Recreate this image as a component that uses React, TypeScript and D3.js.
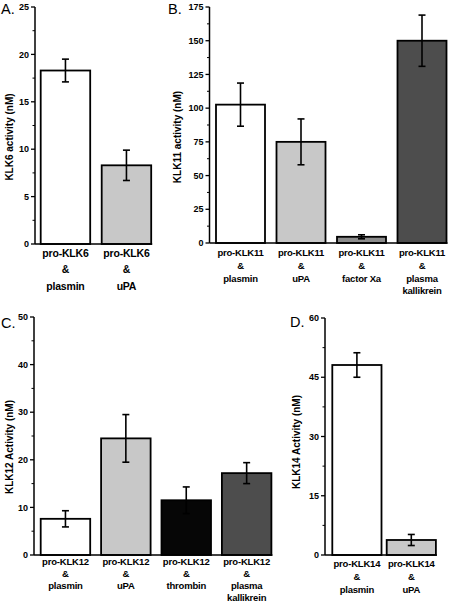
import React from "react";
import * as d3 from "d3";

// ---------- data ----------
const klk6Categories = [["pro-KLK6", "&", "plasmin"], ["pro-KLK6", "&", "uPA"]];
const klk6Values = [18.3, 8.3];
const klk6Errors = [1.2, 1.6];
const klk6Ticks = [0, 5, 10, 15, 20, 25];

const klk11Categories = [
  ["pro-KLK11", "&", "plasmin"],
  ["pro-KLK11", "&", "uPA"],
  ["pro-KLK11", "&", "factor Xa"],
  ["pro-KLK11", "&", "plasma", "kallikrein"],
];
const klk11Values = [102.6, 75, 4.6, 150];
const klk11Errors = [16, 17, 1.5, 19];
const klk11Ticks = [0, 25, 50, 75, 100, 125, 150, 175];

const klk12Categories = [
  ["pro-KLK12", "&", "plasmin"],
  ["pro-KLK12", "&", "uPA"],
  ["pro-KLK12", "&", "thrombin"],
  ["pro-KLK12", "&", "plasma", "kallikrein"],
];
const klk12Values = [7.6, 24.5, 11.5, 17.2];
const klk12Errors = [1.7, 5, 2.8, 2.2];
const klk12Ticks = [0, 10, 20, 30, 40, 50];

const klk14Categories = [["pro-KLK14", "&", "plasmin"], ["pro-KLK14", "&", "uPA"]];
const klk14Values = [48.1, 3.8];
const klk14Errors = [3.1, 1.4];
const klk14Ticks = [0, 15, 30, 45, 60];

// ---------- styles ----------
const WHITE = "#ffffff";
const LIGHT = "#c8c8c8";
const MID = "#8c8c8c";
const DARK = "#4d4d4d";
const BLACK = "#060606";
const FONT = "'Liberation Sans', Arial, Helvetica, sans-serif";

type PanelProps = {
  letter: string;
  letterX: number;
  letterY: number;
  title: string;
  titleX: number;
  titleY: number;
  categories: string[][];
  values: number[];
  errors: number[];
  ticks: number[];
  fills: string[];
  axisX: number;
  barStart: number;
  step: number;
  barWidth: number;
  yBottom: number;
  yTop: number;
  labelY: number;
  labelGap: number;
  labelSize: number;
};

function Panel(p: PanelProps) {
  const n = p.values.length;
  const pad = (p.step - p.barWidth) / p.step;
  const x = d3
    .scaleBand<number>()
    .domain(d3.range(n))
    .range([p.barStart, p.barStart + n * p.step - (p.step - p.barWidth)])
    .paddingInner(pad)
    .paddingOuter(0);
  const max = p.ticks[p.ticks.length - 1];
  const y = d3.scaleLinear().domain([0, max]).range([p.yBottom, p.yTop]);
  const tickStep = p.ticks[1] - p.ticks[0];
  const minor = p.ticks.slice(0, -1).map((t) => t + tickStep / 2);
  const lastEnd = (x(n - 1) ?? 0) + x.bandwidth();
  return (
    <g>
      <text x={p.letterX} y={p.letterY} fontSize={14.5} fontFamily={FONT}>
        {p.letter}
      </text>
      <text
        transform={`translate(${p.titleX},${p.titleY}) rotate(-90)`}
        textAnchor="middle"
        fontSize={10}
        fontWeight="bold"
        fontFamily={FONT}
      >
        {p.title}
      </text>
      {p.values.map((v, i) => (
        <rect
          key={"b" + i}
          x={x(i)}
          y={y(v)}
          width={x.bandwidth()}
          height={y(0) - y(v)}
          fill={p.fills[i]}
          stroke="#000"
          strokeWidth={1.8}
        />
      ))}
      {p.values.map((v, i) => {
        const cx = (x(i) ?? 0) + x.bandwidth() / 2;
        const hi = y(v + p.errors[i]);
        const lo = y(v - p.errors[i]);
        return (
          <g key={"e" + i} stroke="#000" strokeWidth={1.6}>
            <line x1={cx} x2={cx} y1={hi} y2={lo} />
            <line x1={cx - 3.5} x2={cx + 3.5} y1={hi} y2={hi} />
            <line x1={cx - 3.5} x2={cx + 3.5} y1={lo} y2={lo} />
          </g>
        );
      })}
      <line x1={p.axisX} x2={p.axisX} y1={y(0)} y2={y(max)} stroke="#000" strokeWidth={1.5} />
      <line x1={p.axisX} x2={lastEnd + 1} y1={y(0)} y2={y(0)} stroke="#000" strokeWidth={1.5} />
      {p.ticks.map((t) => (
        <g key={"t" + t}>
          <line x1={p.axisX - 4} x2={p.axisX} y1={y(t)} y2={y(t)} stroke="#000" strokeWidth={1.3} />
          <text
            x={p.axisX - 6}
            y={y(t)}
            dy="0.35em"
            textAnchor="end"
            fontSize={9}
            fontWeight="bold"
            fontFamily={FONT}
          >
            {t}
          </text>
        </g>
      ))}
      {minor.map((t) => (
        <line key={"m" + t} x1={p.axisX - 2.5} x2={p.axisX} y1={y(t)} y2={y(t)} stroke="#000" strokeWidth={1} />
      ))}
      {p.categories.map((lines, i) => {
        const cx = (x(i) ?? 0) + x.bandwidth() / 2;
        return (
          <text
            key={"c" + i}
            textAnchor="middle"
            fontSize={p.labelSize}
            fontWeight="bold"
            fontFamily={FONT}
            letterSpacing={-0.2}
          >
            {lines.map((l, j) => (
              <tspan key={j} x={cx} y={p.labelY + j * p.labelGap}>
                {l}
              </tspan>
            ))}
          </text>
        );
      })}
    </g>
  );
}

export default function App() {
  return (
    <svg
      width={453}
      height={605}
      style={{ position: "absolute", left: 0, top: 0, background: "#fff" }}
    >
      <rect width={453} height={605} fill="#fff" />
      <Panel
        letter="A."
        letterX={1}
        letterY={14}
        title="KLK6 activity (nM)"
        titleX={13}
        titleY={137}
        categories={klk6Categories}
        values={klk6Values}
        errors={klk6Errors}
        ticks={klk6Ticks}
        fills={[WHITE, LIGHT]}
        axisX={35}
        barStart={40.7}
        step={61}
        barWidth={49.5}
        yBottom={244}
        yTop={7}
        labelY={257}
        labelGap={16.3}
        labelSize={10.5}
      />
      <Panel
        letter="B."
        letterX={168}
        letterY={14}
        title="KLK11 activity (nM)"
        titleX={181}
        titleY={137}
        categories={klk11Categories}
        values={klk11Values}
        errors={klk11Errors}
        ticks={klk11Ticks}
        fills={[WHITE, LIGHT, MID, DARK]}
        axisX={209.5}
        barStart={216}
        step={60.5}
        barWidth={49}
        yBottom={243}
        yTop={7}
        labelY={256}
        labelGap={12.8}
        labelSize={9.5}
      />
      <Panel
        letter="C."
        letterX={1}
        letterY={328}
        title="KLK12 Activity (nM)"
        titleX={13}
        titleY={447}
        categories={klk12Categories}
        values={klk12Values}
        errors={klk12Errors}
        ticks={klk12Ticks}
        fills={[WHITE, LIGHT, BLACK, DARK]}
        axisX={34}
        barStart={40.7}
        step={60.4}
        barWidth={49.5}
        yBottom={555}
        yTop={317}
        labelY={564.5}
        labelGap={12}
        labelSize={9.5}
      />
      <Panel
        letter="D."
        letterX={290}
        letterY={327}
        title="KLK14 Activity (nM)"
        titleX={300}
        titleY={442}
        categories={klk14Categories}
        values={klk14Values}
        errors={klk14Errors}
        ticks={klk14Ticks}
        fills={[WHITE, LIGHT]}
        axisX={325}
        barStart={332.3}
        step={54.4}
        barWidth={49.2}
        yBottom={555}
        yTop={318}
        labelY={566.5}
        labelGap={13.3}
        labelSize={9.5}
      />
    </svg>
  );
}
